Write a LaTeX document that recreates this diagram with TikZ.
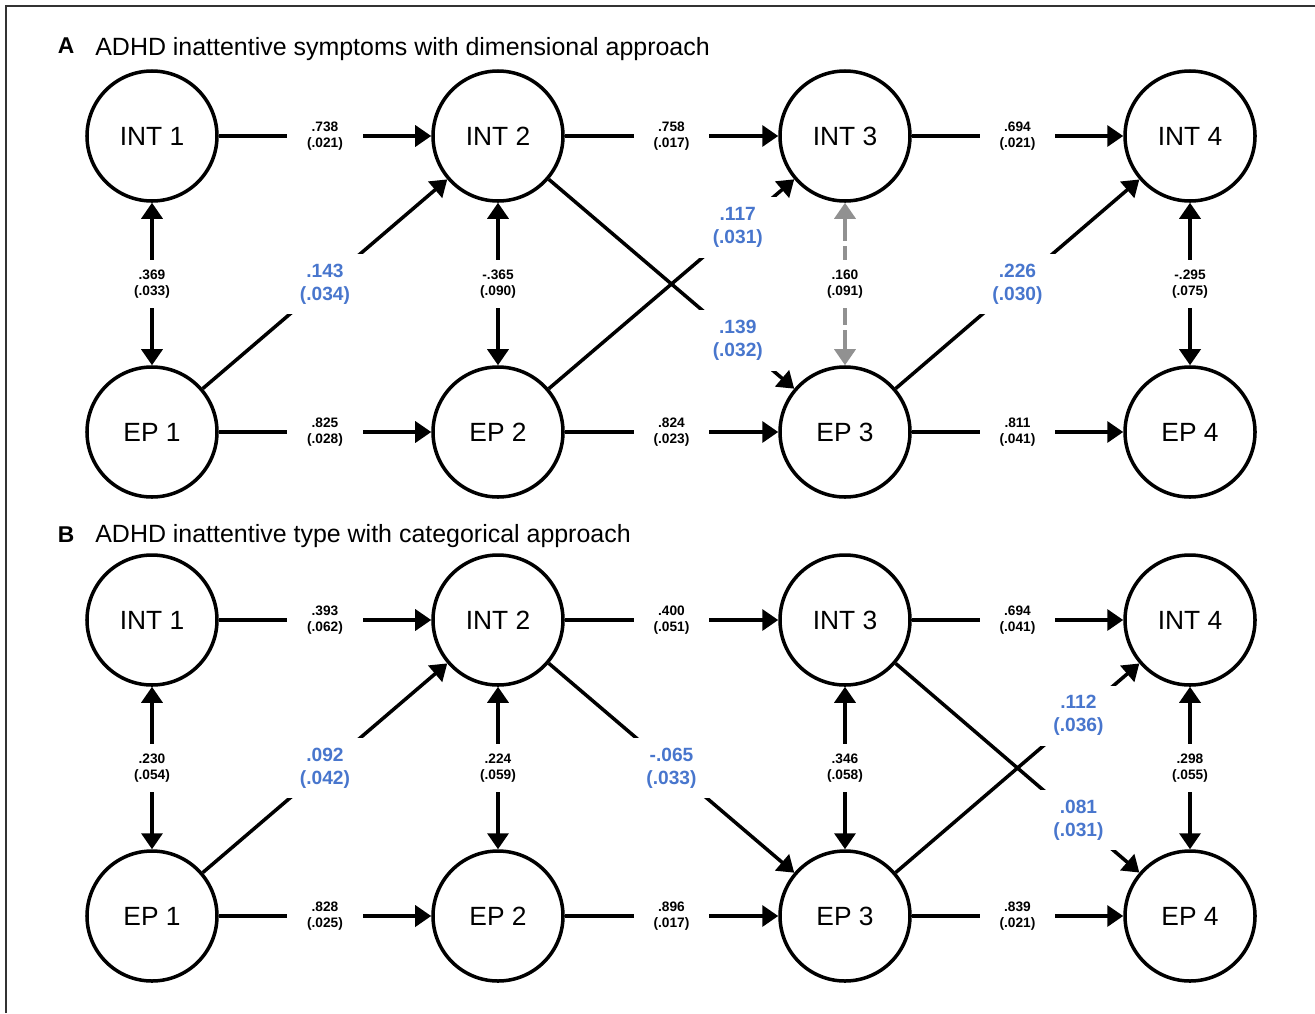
\documentclass[tikz,border=0pt]{standalone}
\usepackage{fontspec}
\setmainfont{Liberation Sans}
\usetikzlibrary{arrows.meta}
\definecolor{bleuCoef}{RGB}{72,118,205}
\definecolor{grisCov}{RGB}{145,145,145}

\begin{document}
\begin{tikzpicture}[
  lat/.style={circle,draw,line width=2pt,minimum size=2.6cm,inner sep=0pt,
              font=\fontsize{15}{18}\selectfont},
  arr/.style={line width=2pt,-{Triangle[length=0.32cm,width=0.42cm]}},
  cov/.style={line width=2pt,{Triangle[length=0.32cm,width=0.42cm]}-{Triangle[length=0.32cm,width=0.42cm]}},
  covg/.style={cov,grisCov,dash pattern=on 13pt off 3pt},
  coef/.style={fill=white,align=center,inner xsep=0.4cm,inner ysep=0.2cm,text=black,
               font=\fontsize{7.8}{9.2}\selectfont\bfseries},
  sig/.style={coef,text=bleuCoef,inner xsep=0.3cm,inner ysep=0.2cm,
              font=\fontsize{10.9}{13.1}\selectfont\bfseries},
  titre/.style={anchor=base west,inner sep=0pt,font=\fontsize{14.2}{17}\selectfont},
  lettre/.style={anchor=base,inner sep=0pt,font=\fontsize{13}{15}\selectfont\bfseries}]

  \useasboundingbox (0,0) rectangle (26.3,-20.26);
  \draw[line width=0.7pt,black!80] (0.12,-20.26) -- (0.12,-0.12) -- (26.3,-0.12);

  % Panneau A
  \node[lettre] (letA) at (1.32,-1.06) {A};
  \node[titre] (titA) at (1.9,-1.1) {ADHD inattentive symptoms with dimensional approach};

  \node[lat] (int1a) at (3.04,-2.72)  {INT 1};
  \node[lat] (int2a) at (9.96,-2.72)  {INT 2};
  \node[lat] (int3a) at (16.9,-2.72)  {INT 3};
  \node[lat] (int4a) at (23.8,-2.72)  {INT 4};
  \node[lat] (ep1a)  at (3.04,-8.64)  {EP 1};
  \node[lat] (ep2a)  at (9.96,-8.64)  {EP 2};
  \node[lat] (ep3a)  at (16.9,-8.64)  {EP 3};
  \node[lat] (ep4a)  at (23.8,-8.64)  {EP 4};

  \draw[arr] (int1a) -- node[coef]{.738\\(.021)} (int2a);
  \draw[arr] (int2a) -- node[coef]{.758\\(.017)} (int3a);
  \draw[arr] (int3a) -- node[coef]{.694\\(.021)} (int4a);
  \draw[arr] (ep1a) -- node[coef]{.825\\(.028)} (ep2a);
  \draw[arr] (ep2a) -- node[coef]{.824\\(.023)} (ep3a);
  \draw[arr] (ep3a) -- node[coef]{.811\\(.041)} (ep4a);

  \draw[cov]  (int1a) -- node[coef]{.369\\(.033)} (ep1a);
  \draw[cov]  (int2a) -- node[coef]{-.365\\(.090)} (ep2a);
  \draw[covg] (int3a) -- node[coef]{.160\\(.091)} (ep3a);
  \draw[cov]  (int4a) -- node[coef]{-.295\\(.075)} (ep4a);

  \draw[arr] (ep1a) -- node[sig]{.143\\(.034)} (int2a);
  \draw[arr] (int2a) -- node[sig,pos=0.77]{.139\\(.032)} (ep3a);
  \draw[arr] (ep2a) -- node[sig,pos=0.77]{.117\\(.031)} (int3a);
  \draw[arr] (ep3a) -- node[sig]{.226\\(.030)} (int4a);

  % Panneau B
  \node[lettre] (letB) at (1.32,-10.84) {B};
  \node[titre] (titB) at (1.9,-10.84) {ADHD inattentive type with categorical approach};

  \node[lat] (int1b) at (3.04,-12.4)  {INT 1};
  \node[lat] (int2b) at (9.96,-12.4)  {INT 2};
  \node[lat] (int3b) at (16.9,-12.4)  {INT 3};
  \node[lat] (int4b) at (23.8,-12.4)  {INT 4};
  \node[lat] (ep1b)  at (3.04,-18.32) {EP 1};
  \node[lat] (ep2b)  at (9.96,-18.32) {EP 2};
  \node[lat] (ep3b)  at (16.9,-18.32) {EP 3};
  \node[lat] (ep4b)  at (23.8,-18.32) {EP 4};

  \draw[arr] (int1b) -- node[coef]{.393\\(.062)} (int2b);
  \draw[arr] (int2b) -- node[coef]{.400\\(.051)} (int3b);
  \draw[arr] (int3b) -- node[coef]{.694\\(.041)} (int4b);
  \draw[arr] (ep1b) -- node[coef]{.828\\(.025)} (ep2b);
  \draw[arr] (ep2b) -- node[coef]{.896\\(.017)} (ep3b);
  \draw[arr] (ep3b) -- node[coef]{.839\\(.021)} (ep4b);

  \draw[cov] (int1b) -- node[coef]{.230\\(.054)} (ep1b);
  \draw[cov] (int2b) -- node[coef]{.224\\(.059)} (ep2b);
  \draw[cov] (int3b) -- node[coef]{.346\\(.058)} (ep3b);
  \draw[cov] (int4b) -- node[coef]{.298\\(.055)} (ep4b);

  \draw[arr] (ep1b) -- node[sig]{.092\\(.042)} (int2b);
  \draw[arr] (int2b) -- node[sig]{-.065\\(.033)} (ep3b);
  \draw[arr] (ep3b) -- node[sig,pos=0.75]{.112\\(.036)} (int4b);
  \draw[arr] (int3b) -- node[sig,pos=0.75]{.081\\(.031)} (ep4b);
\end{tikzpicture}
\end{document}
